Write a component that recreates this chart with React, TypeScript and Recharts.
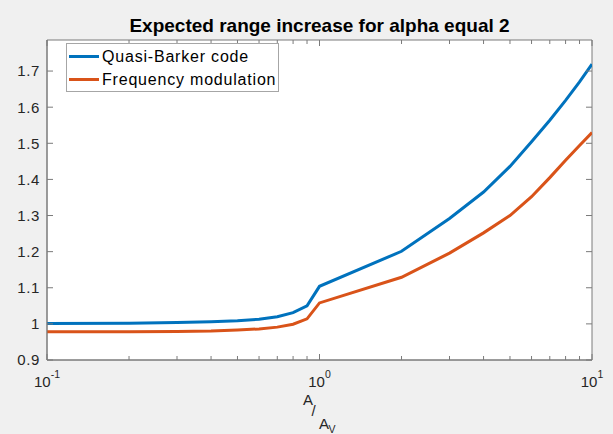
import { LineChart, Line, XAxis, YAxis, CartesianGrid, Legend, ReferenceArea } from 'recharts';

// A / A_V ratio (log axis) and the two expected range increase curves
const ratio = [0.1, 0.2, 0.3, 0.4, 0.5, 0.6, 0.7, 0.8, 0.9, 1, 2, 3, 4, 5, 6, 7, 8, 9, 10];
const quasiBarker = [
  1.001, 1.002, 1.004, 1.006, 1.009, 1.013, 1.02, 1.031, 1.05, 1.104, 1.201, 1.292, 1.365,
  1.436, 1.504, 1.564, 1.619, 1.67, 1.719,
];
const freqModulation = [
  0.978, 0.978, 0.979, 0.98, 0.983, 0.986, 0.991, 0.999, 1.014, 1.058, 1.129, 1.196, 1.252,
  1.3, 1.352, 1.405, 1.453, 1.494, 1.53,
];

const seriesNames = ['Quasi-Barker code', 'Frequency modulation'];
const title = 'Expected range increase for alpha equal 2';
const xMajorTicks = [0.1, 1, 10];
const xAllTicks = [0.1, 0.2, 0.3, 0.4, 0.5, 0.6, 0.7, 0.8, 0.9, 1, 2, 3, 4, 5, 6, 7, 8, 9, 10];
const yTicks = [0.9, 1, 1.1, 1.2, 1.3, 1.4, 1.5, 1.6, 1.7];
const xDomain = [0.1, 10];
const yDomain = [0.9, 1.786];

const data = ratio.map((r, i) => ({ ratio: r, qb: quasiBarker[i], fm: freqModulation[i] }));

const W = 613;
const H = 434;
const MARGIN = { top: 40, right: 21, bottom: 0, left: 0 };
const Y_AXIS_W = 47;
const X_AXIS_H = 74;
const PLOT_W = W - MARGIN.right - Y_AXIS_W;
const PLOT_H = H - MARGIN.top - X_AXIS_H;

const FONT = "'Liberation Sans', Arial, sans-serif";
const AXIS = '#7a7a7a';
const TEXT = '#262626';
const BLUE = '#0072BD';
const ORANGE = '#D95319';
const colors = [BLUE, ORANGE];

// matlab style: ticks point inward, mirrored on the top / right edges
function BottomTick(props: any) {
  const { x, y, payload } = props;
  const major = xMajorTicks.includes(payload.value);
  const len = major ? 6 : 4;
  const exp = Math.round(Math.log10(payload.value));
  return (
    <g>
      <line x1={x} y1={y} x2={x} y2={y - len} stroke={AXIS} />
      <line x1={x} y1={y - PLOT_H} x2={x} y2={y - PLOT_H + len} stroke={AXIS} />
      {major && (
        <text x={x} y={y + 27} textAnchor="middle" fill={TEXT} fontFamily={FONT} fontSize={15}>
          10
          <tspan dy={-9} fontSize={10.5}>
            {exp}
          </tspan>
        </text>
      )}
    </g>
  );
}

function LeftTick(props: any) {
  const { x, y, payload } = props;
  return (
    <g>
      <line x1={x} y1={y} x2={x + 6} y2={y} stroke={AXIS} />
      <line x1={x + PLOT_W} y1={y} x2={x + PLOT_W - 6} y2={y} stroke={AXIS} />
      <text
        x={x - 7}
        y={y}
        dy="0.36em"
        textAnchor="end"
        fill={TEXT}
        fontFamily={FONT}
        fontSize={15}
        letterSpacing={0.6}
      >
        {String(payload.value)}
      </text>
    </g>
  );
}

function RatioLabel(props: any) {
  const { viewBox } = props;
  const cx = viewBox.x + viewBox.width / 2;
  const y0 = viewBox.y;
  return (
    <text fill={TEXT} fontFamily={FONT} fontSize={15}>
      <tspan x={cx - 16.5} y={y0 + 45}>A</tspan>
      <tspan x={cx - 8} y={y0 + 55.5}>/</tspan>
      <tspan x={cx - 0.5} y={y0 + 68.5}>A</tspan>
      <tspan x={cx + 9} y={y0 + 72.5} fontSize={10.5}>V</tspan>
    </text>
  );
}

function LegendBox() {
  return (
    <div
      style={{
        boxSizing: 'border-box',
        width: 213,
        height: 49,
        border: '1px solid #a6a6a6',
        background: '#fff',
        padding: '1px 0 0 2px',
        fontFamily: FONT,
        fontSize: 16,
        letterSpacing: 0.8,
        color: '#000',
      }}
    >
      {seriesNames.map((name, i) => (
        <div key={name} style={{ display: 'flex', alignItems: 'center', height: 23 }}>
          <span style={{ display: 'inline-block', width: 30, height: 3, background: colors[i] }} />
          <span style={{ marginLeft: 3, whiteSpace: 'nowrap' }}>{name}</span>
        </div>
      ))}
    </div>
  );
}

export default function App() {
  return (
    <div style={{ position: 'absolute', left: 0, top: 0, width: W, height: H, background: '#f0f0f0' }}>
      <div
        style={{
          position: 'absolute',
          left: Y_AXIS_W,
          width: PLOT_W,
          top: 15,
          textAlign: 'center',
          fontFamily: FONT,
          fontSize: 19,
          fontWeight: 'bold',
          lineHeight: '22px',
          color: '#000',
          whiteSpace: 'nowrap',
        }}
      >
        {title}
      </div>
      <LineChart width={W} height={H} data={data} margin={MARGIN}>
        <CartesianGrid horizontal={false} vertical={false} fill="#ffffff" />
        <XAxis
          dataKey="ratio"
          type="number"
          scale="log"
          domain={xDomain}
          allowDataOverflow
          ticks={xAllTicks}
          interval={0}
          height={X_AXIS_H}
          tickSize={0}
          tickMargin={0}
          tickLine={false}
          axisLine={{ stroke: AXIS }}
          tick={<BottomTick />}
          label={<RatioLabel />}
        />
        <YAxis
          type="number"
          domain={yDomain}
          allowDataOverflow
          ticks={yTicks}
          interval={0}
          width={Y_AXIS_W}
          tickSize={0}
          tickMargin={0}
          tickLine={false}
          axisLine={{ stroke: AXIS }}
          tick={<LeftTick />}
        />
        {/* axes box (top and right edges) */}
        <ReferenceArea
          x1={xDomain[0]}
          x2={xDomain[1]}
          y1={yDomain[0]}
          y2={yDomain[1]}
          fill="none"
          stroke={AXIS}
          strokeWidth={1}
        />
        <Legend
          layout="vertical"
          align="center"
          verticalAlign="middle"
          wrapperStyle={{ left: 66, top: 43, width: 213, height: 49 }}
          content={<LegendBox />}
        />
        <Line
          type="linear"
          dataKey="qb"
          name={seriesNames[0]}
          stroke={BLUE}
          strokeWidth={3}
          dot={false}
          isAnimationActive={false}
        />
        <Line
          type="linear"
          dataKey="fm"
          name={seriesNames[1]}
          stroke={ORANGE}
          strokeWidth={3}
          dot={false}
          isAnimationActive={false}
        />
      </LineChart>
    </div>
  );
}
